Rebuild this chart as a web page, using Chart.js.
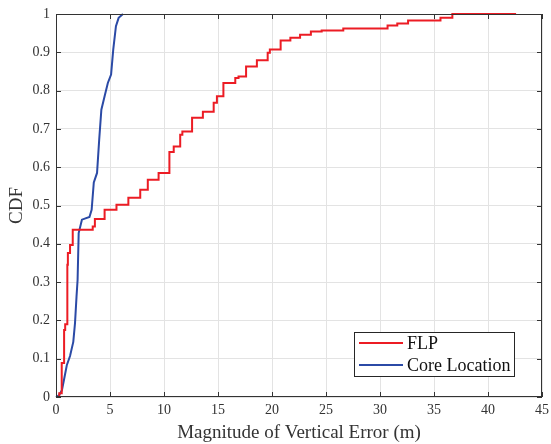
<!DOCTYPE html>
<html>
<head>
<meta charset="utf-8">
<script src="https://cdn.jsdelivr.net/npm/chart.js@4"></script>
<style>
  html, body { margin: 0; padding: 0; background: #fff; }
  #wrap { width: 551px; height: 444px; }
</style>
</head>
<body>
<div id="wrap"><canvas id="cdf" width="551" height="444"></canvas></div>
<script>
// FLP: step CDF, jump positions (m) and cumulative fraction after each jump
const flpX = [0, 0.3, 0.53, 0.75, 0.85, 1.05, 1.1, 1.3, 1.55, 3.4, 3.6, 4.5, 5.6, 6.7, 7.8, 8.5, 9.5,
  10.5, 10.9, 11.5, 11.7, 12.6, 13.6, 14.6, 14.9, 15.5, 16.6, 16.9, 17.6, 18.6, 19.6, 19.8,
  20.8, 21.7, 22.6, 23.6, 24.6, 26.6, 30.7, 31.6, 32.6, 35.6, 36.7, 42.6];
const flpY = [0, 0.01, 0.089, 0.175, 0.19, 0.345, 0.376, 0.397, 0.437, 0.445, 0.465, 0.489, 0.502, 0.52, 0.541, 0.567, 0.585,
  0.64, 0.654, 0.685, 0.693, 0.729, 0.745, 0.768, 0.785, 0.82, 0.833, 0.837, 0.863, 0.879, 0.899, 0.907,
  0.931, 0.938, 0.946, 0.954, 0.957, 0.962, 0.97, 0.975, 0.983, 0.99, 1.0, 1.0];

// Core Location: dense CDF, read as a polyline
const coreX = [0, 0.3, 0.55, 0.74, 1.0, 1.3, 1.6, 1.76, 1.9, 2.0, 2.1, 2.4, 3.1, 3.3, 3.5, 3.8, 4.0,
  4.2, 4.5, 4.8, 5.1, 5.3, 5.55, 5.8, 6.2];
const coreY = [0, 0.005, 0.018, 0.045, 0.083, 0.107, 0.144, 0.193, 0.262, 0.306, 0.428, 0.463, 0.47, 0.489, 0.56, 0.585, 0.672,
  0.75, 0.785, 0.82, 0.842, 0.907, 0.968, 0.99, 1.0];

const seriesNames = ['FLP', 'Core Location'];
const seriesColors = ['#ec1c24', '#2b4aa6'];

const xTitle = 'Magnitude of Vertical Error (m)';
const yTitle = 'CDF';

const serif = '"Liberation Serif", "DejaVu Serif", serif';
const axisColor = '#333333';

function pairs(xs, ys) {
  return xs.map((x, i) => ({ x: x, y: ys[i] }));
}

// box around the axes with inward ticks, MATLAB style
const boxPlugin = {
  id: 'boxPlugin',
  afterDatasetsDraw(chart) {
    const { ctx, chartArea: a, scales } = chart;
    ctx.save();
    ctx.strokeStyle = axisColor;
    ctx.lineWidth = 1;
    ctx.strokeRect(a.left + 0.5, a.top + 0.5, a.right - a.left - 1, a.bottom - a.top - 1);
    ctx.beginPath();
    const len = 5;
    scales.x.ticks.forEach(t => {
      const px = Math.round(scales.x.getPixelForValue(t.value)) + 0.5;
      ctx.moveTo(px, a.bottom); ctx.lineTo(px, a.bottom - len);
      ctx.moveTo(px, a.top); ctx.lineTo(px, a.top + len);
    });
    scales.y.ticks.forEach(t => {
      const py = Math.round(scales.y.getPixelForValue(t.value)) + 0.5;
      ctx.moveTo(a.left, py); ctx.lineTo(a.left + len, py);
      ctx.moveTo(a.right, py); ctx.lineTo(a.right - len, py);
    });
    ctx.stroke();

    // legend box, lower right
    const lx = 354, ly = 332, lw = 160, lh = 44;
    ctx.fillStyle = '#fff';
    ctx.fillRect(lx, ly, lw, lh);
    ctx.strokeStyle = '#262626';
    ctx.strokeRect(lx + 0.5, ly + 0.5, lw, lh);
    ctx.font = '18px ' + serif;
    ctx.textBaseline = 'middle';
    chart.data.datasets.forEach((ds, i) => {
      const cy = ly + 11 + i * 22;
      ctx.strokeStyle = ds.borderColor;
      ctx.lineWidth = 2;
      ctx.beginPath();
      ctx.moveTo(lx + 5, cy); ctx.lineTo(lx + 49, cy);
      ctx.stroke();
      ctx.fillStyle = '#111';
      ctx.fillText(ds.label, lx + 53, cy + 1);
    });
    ctx.restore();
  }
};

new Chart(document.getElementById('cdf'), {
  type: 'line',
  data: {
    datasets: [
      {
        label: seriesNames[0],
        data: pairs(flpX, flpY),
        borderColor: seriesColors[0],
        borderWidth: 2,
        stepped: true,
        pointRadius: 0,
        fill: false,
        clip: 4
      },
      {
        label: seriesNames[1],
        data: pairs(coreX, coreY),
        borderColor: seriesColors[1],
        borderWidth: 2,
        tension: 0,
        pointRadius: 0,
        fill: false,
        clip: 4
      }
    ]
  },
  options: {
    responsive: false,
    animation: false,
    devicePixelRatio: 1,
    layout: { padding: { top: 14, right: 9, left: 0, bottom: 0 } },
    plugins: {
      legend: { display: false },
      tooltip: { enabled: false }
    },
    scales: {
      x: {
        type: 'linear',
        min: 0,
        max: 45,
        ticks: { stepSize: 5, color: axisColor, font: { family: serif, size: 14 }, padding: 5, maxRotation: 0 },
        grid: { color: '#e3e3e3', drawTicks: false },
        border: { display: false },
        title: { display: true, text: xTitle, color: axisColor, font: { family: serif, size: 19 }, padding: { top: 1, bottom: 0 } },
        afterFit(scale) {
          scale.height = 47;
          scale.paddingRight = 0;
          scale.paddingLeft = 0;
        }
      },
      y: {
        type: 'linear',
        min: 0,
        max: 1,
        ticks: {
          stepSize: 0.1, color: axisColor, font: { family: serif, size: 14 }, padding: 6,
          callback: v => String(Math.round(v * 10) / 10)
        },
        grid: { color: '#e3e3e3', drawTicks: false },
        border: { display: false },
        title: { display: true, text: yTitle, color: axisColor, font: { family: serif, size: 19 }, padding: { top: 6, bottom: 0 } },
        afterFit(scale) {
          scale.width = 56;
          scale.paddingTop = 0;
          scale.paddingBottom = 0;
        }
      }
    }
  },
  plugins: [boxPlugin]
});
</script>
</body>
</html>
